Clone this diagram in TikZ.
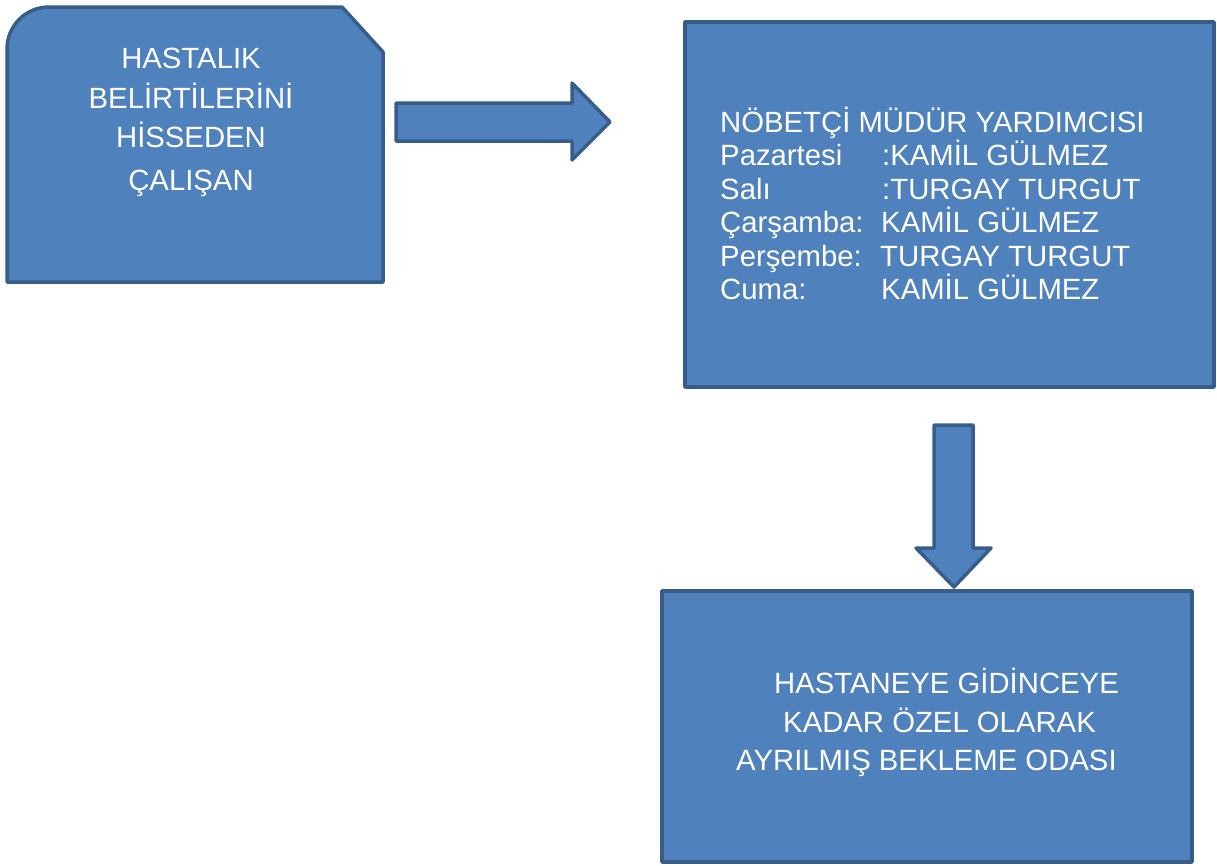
\documentclass[tikz,border=0pt]{standalone}
\usepackage{fontspec}
\setmainfont{Liberation Sans}
\definecolor{boxfill}{HTML}{4F81BD}
\definecolor{boxline}{HTML}{385D8A}
\begin{document}
\begin{tikzpicture}[x=1pt,y=-1pt,
  shapestyle/.style={fill=boxfill,draw=boxline,line width=3.5pt,line join=round},
  txt/.style={text=white,anchor=base west,inner sep=0pt,font=\fontsize{29.3}{34}\selectfont},
  ctxt/.style={text=white,anchor=base,inner sep=0pt,font=\fontsize{29.3}{34}\selectfont}]
\useasboundingbox (0,0) rectangle (1217,865);
% box 1 (one rounded, one snipped corner)
\draw[shapestyle] (7,282) [rounded corners=42pt] -- (7,7) [sharp corners] -- (342,7) -- (383,52) -- (383,282) -- cycle;
\node[ctxt] (t1a) at (191,68) {HASTALIK};
\node[ctxt] (t1b) at (191,108) {BELİRTİLERİNİ};
\node[ctxt] (t1c) at (191,147) {HİSSEDEN};
\node[ctxt] (t1d) at (191,190) {ÇALIŞAN};
% right block arrow
\draw[shapestyle] (396,103) -- (572,103) -- (572,83) -- (610,122) -- (572,160) -- (572,141) -- (396,141) -- cycle;
% box 2
\draw[shapestyle] (685,22) rectangle (1214,387);
\node[txt] (h) at (720,132) {NÖBETÇİ MÜDÜR YARDIMCISI};
\node[txt] (d1) at (720,165.5) {Pazartesi};
\node[txt] (n1) at (882,165.5) {:KAMİL GÜLMEZ};
\node[txt] (d2) at (720,199) {Salı};
\node[txt] (n2) at (882,199) {:TURGAY TURGUT};
\node[txt] (d3) at (720,232.5) {Çarşamba:};
\node[txt] (n3) at (881,232.5) {KAMİL GÜLMEZ};
\node[txt] (d4) at (720,266) {Perşembe:};
\node[txt] (n4) at (880,266) {TURGAY TURGUT};
\node[txt] (d5) at (720,299.5) {Cuma:};
\node[txt] (n5) at (881,299.5) {KAMİL GÜLMEZ};
% down block arrow
\draw[shapestyle] (934,425) -- (973,425) -- (973,548) -- (991,548) -- (954,587) -- (916,548) -- (934,548) -- cycle;
% box 3
\draw[shapestyle] (662,591) rectangle (1192,862);
\node[txt] (b1) at (774,693) {HASTANEYE GİDİNCEYE};
\node[txt] (b2) at (783,732) {KADAR ÖZEL OLARAK};
\node[txt] (b3) at (736,770) {AYRILMIŞ BEKLEME ODASI};
\end{tikzpicture}
\end{document}
